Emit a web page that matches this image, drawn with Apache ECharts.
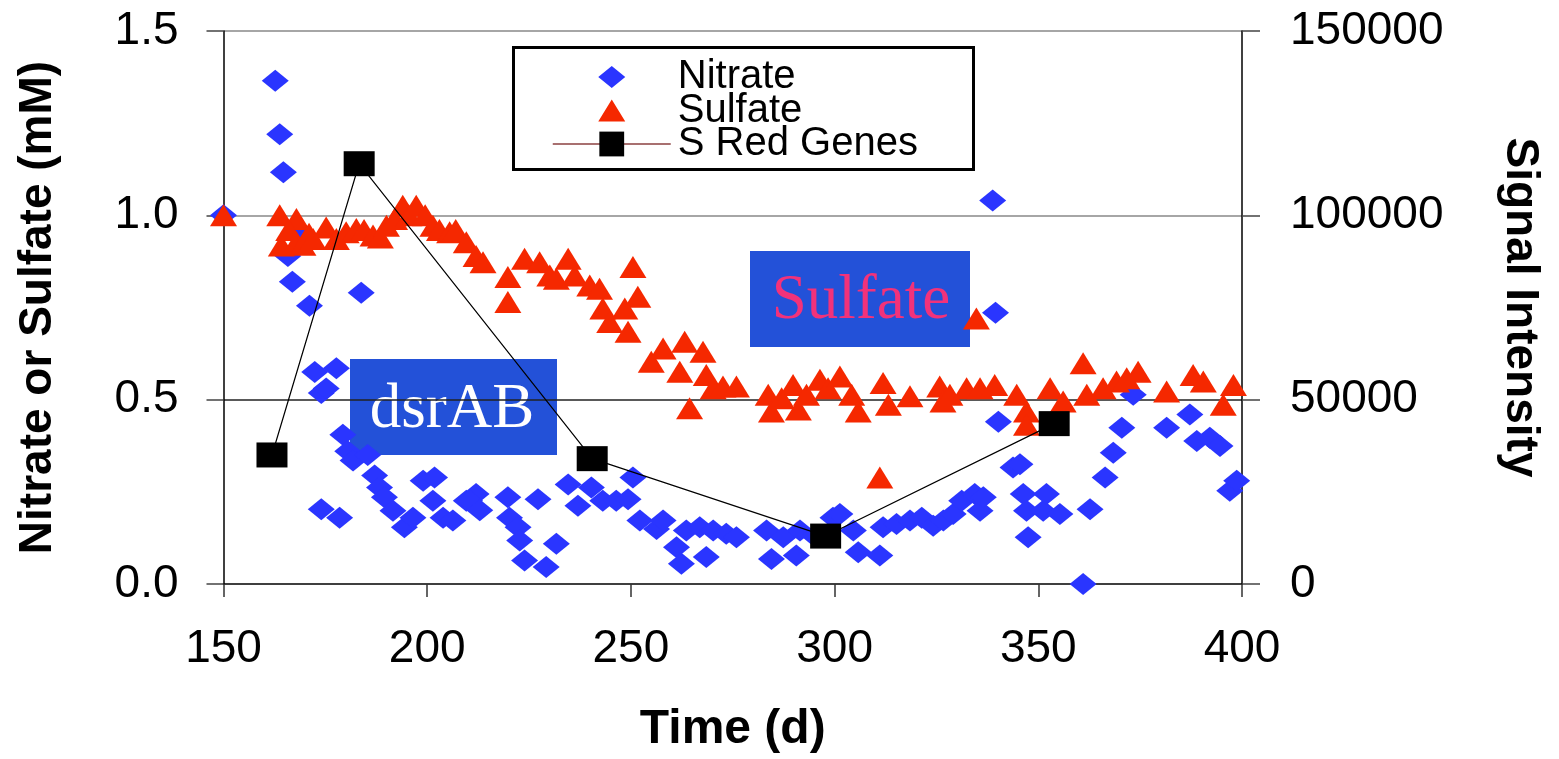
<!DOCTYPE html>
<html>
<head>
<meta charset="utf-8">
<script src="https://cdn.jsdelivr.net/npm/echarts@6/dist/echarts.min.js"></script>
<style>
html,body{margin:0;padding:0;background:#fff;}
#chart{width:1559px;height:759px;}
</style>
</head>
<body>
<div id="chart"></div>
<script>
// ---- data (day, value) ----
var xTicks = [150, 200, 250, 300, 350, 400];
var leftTicks = ['0.0', '0.5', '1.0', '1.5'];
var rightTicks = ['0', '50000', '100000', '150000'];

var nitrate = [
  [150,1.0],[162.7,1.365],[163.8,1.22],[164.7,1.117],[167.8,0.955],[165.8,0.89],[166.9,0.82],
  [183.8,0.79],[171.1,0.755],[172.4,0.575],[177.7,0.585],[174,0.518],[175.2,0.53],[179.3,0.405],
  [180.5,0.36],[181.8,0.335],[185.4,0.35],[187.1,0.294],[188.3,0.262],[189.5,0.235],[191.6,0.199],
  [194.4,0.154],[196.5,0.18],[199,0.28],[201.8,0.289],[201.4,0.226],[203.9,0.18],[206.3,0.172],
  [209.6,0.226],[212,0.244],[174,0.203],[178.5,0.18],[210.4,0.226],[212.9,0.2],[219.8,0.235],
  [220.2,0.18],[222.3,0.154],[222.7,0.118],[223.9,0.064],[229.2,0.046],[231.7,0.109],[227.2,0.23],
  [234.6,0.27],[237,0.212],[240.3,0.262],[243.1,0.226],[246.4,0.226],[249.3,0.23],[250.5,0.289],
  [252.2,0.172],[256.3,0.149],[257.9,0.172],[261.2,0.1],[262.4,0.055],[263.6,0.145],[266.9,0.154],
  [268.5,0.073],[270.2,0.145],[273.4,0.136],[275.9,0.127],[283.3,0.145],[284.5,0.068],[287.4,0.127],
  [290.6,0.077],[291.5,0.145],[295,0.13],[299.6,0.18],[301.3,0.19],[304.6,0.145],[305.8,0.086],
  [311.1,0.077],[311.9,0.154],[315.2,0.163],[318.5,0.172],[321.4,0.18],[324.2,0.158],[326.7,0.172],
  [329.1,0.19],[331.2,0.226],[334.4,0.244],[335.7,0.199],[338.8,1.04],[339.5,0.736],[340.2,0.44],
  [336.5,0.235],[343.8,0.316],[345.5,0.325],[346.3,0.244],[347.1,0.199],[347.5,0.127],[351.2,0.199],
  [352,0.244],[355.3,0.19],[362.7,0.203],[361,0.0],[366.4,0.289],[368.4,0.356],[370.5,0.424],
  [373.3,0.513],[381.5,0.424],[387.2,0.46],[388.9,0.388],[392.1,0.397],[394.6,0.374],[397,0.253],
  [398.7,0.28]
];

var sulfate = [
  [150,1.0],[163.8,1.0],[167.9,0.99],[164.2,0.918],[167.9,0.927],[166,0.96],[169.5,0.92],[171,0.95],
  [172,0.936],[175.2,0.967],[177.7,0.936],[180.1,0.954],[182.6,0.963],[184.5,0.96],[186.7,0.945],
  [188.5,0.94],[190,0.972],[192,0.99],[194,1.026],[195.5,1.0],[197.3,1.026],[199.5,1.0],[201.4,0.972],
  [203,0.96],[205.5,0.954],[207,0.96],[209.6,0.927],[212,0.89],[213.7,0.873],[219.8,0.833],
  [219.8,0.765],[223.9,0.882],[227.6,0.873],[230.1,0.837],[231.7,0.828],[234.6,0.882],[236.2,0.837],
  [239.9,0.81],[242.3,0.801],[243.1,0.747],[244.8,0.711],[248.5,0.747],[249.3,0.684],[250.5,0.86],
  [251.7,0.779],[255,0.603],[257.9,0.639],[262,0.576],[263.2,0.657],[264.4,0.477],[267.7,0.63],
  [268.5,0.567],[270.2,0.531],[272.6,0.536],[275.9,0.536],[283.7,0.513],[284.5,0.468],[287,0.504],
  [289.8,0.54],[291.1,0.473],[293.1,0.513],[296.4,0.554],[298.4,0.531],[301.3,0.563],[304.2,0.513],
  [305.8,0.468],[311.1,0.289],[311.9,0.545],[313.2,0.486],[318.5,0.509],[325.8,0.536],[326.6,0.495],
  [328.3,0.513],[332.4,0.531],[334.8,0.72],[335.7,0.531],[339.3,0.54],[344.7,0.513],[347.1,0.468],
  [347.1,0.432],[352.9,0.531],[356.1,0.495],[361,0.599],[361.9,0.513],[365.9,0.531],[369.2,0.549],
  [371.7,0.558],[374.5,0.576],[381.5,0.522],[388,0.567],[390.5,0.549],[395.4,0.486],[397.9,0.54]
];

var genes = [
  [161.9,35000],[183.3,114000],[240.5,34000],[297.8,13000],[353.9,43500]
];

var seriesNames = ['Nitrate', 'Sulfate', 'S Red Genes'];
var annotations = ['dsrAB', 'Sulfate'];

// ---- chart ----
var SANS = '"Liberation Sans", Arial, sans-serif';
var SERIF = '"Liberation Serif", "Times New Roman", serif';
// legend icons: a centred marker inside an invisible 118x31 frame (tiny corner dots fix the box)
var FRAME = 'M0,0 L0.01,0 L0,0.01 Z M118,31 L117.99,31 L118,30.99 Z ';
var ICON_DIAMOND = 'path://' + FRAME + 'M59,4.5 L72.5,15.5 L59,26.5 L45.5,15.5 Z';
var ICON_TRIANGLE = 'path://' + FRAME + 'M59,4.5 L72.5,26.5 L45.5,26.5 Z';

var chart = echarts.init(document.getElementById('chart'));

chart.setOption({
  animation: false,
  backgroundColor: '#ffffff',
  grid: { left: 223.5, right: 317, top: 31, bottom: 172, containLabel: false },
  legend: {
    orient: 'vertical',
    left: 547, top: 52,
    itemWidth: 118, itemHeight: 31, itemGap: -6.5,
    selectedMode: false,
    textStyle: { fontFamily: SANS, fontSize: 40, color: '#000', padding: [0,0,0,2] },
    data: [
      { name: seriesNames[0], icon: ICON_DIAMOND },
      { name: seriesNames[1], icon: ICON_TRIANGLE },
      { name: seriesNames[2], lineStyle: { color: '#8B4040', width: 1.5 } }
    ]
  },
  xAxis: {
    type: 'value', min: xTicks[0], max: xTicks[xTicks.length-1], interval: 50,
    name: 'Time (d)', nameLocation: 'middle', nameGap: 122,
    nameTextStyle: { fontFamily: SANS, fontSize: 48, fontWeight: 'bold', color: '#000' },
    axisLine: { show: true, onZero: false, lineStyle: { color: '#000', width: 1.5 } },
    axisTick: { show: true, inside: false, length: 13, lineStyle: { color: '#333', width: 1.5 } },
    axisLabel: { margin: 42, fontFamily: SANS, fontSize: 46, color: '#000' },
    splitLine: { show: false }
  },
  yAxis: [
    {
      type: 'value', min: 0, max: 1.5, interval: 0.5, position: 'left',
      name: 'Nitrate or Sulfate (mM)', nameLocation: 'middle', nameGap: 162, nameRotate: 90,
      nameTextStyle: { fontFamily: SANS, fontSize: 46, fontWeight: 'bold', color: '#000' },
      axisLine: { show: true, lineStyle: { color: '#000', width: 1.5 } },
      axisTick: { show: true, inside: false, length: 17, lineStyle: { color: '#444', width: 1.5 } },
      axisLabel: { margin: 45, fontFamily: SANS, fontSize: 46, color: '#000',
        formatter: function (v) { return leftTicks[Math.round(v / 0.5)]; } },
      splitLine: { show: true, lineStyle: { color: ['rgba(0,0,0,0)', '#222', '#888', '#888'], width: 1.5 } }
    },
    {
      type: 'value', min: 0, max: 150000, interval: 50000, position: 'right',
      name: 'Signal Intensity', nameLocation: 'middle', nameGap: 255, nameRotate: -90,
      nameTextStyle: { fontFamily: SANS, fontSize: 46, fontWeight: 'bold', color: '#000' },
      axisLine: { show: true, lineStyle: { color: '#000', width: 1.5 } },
      axisTick: { show: true, inside: false, length: 18, lineStyle: { color: '#444', width: 1.5 } },
      axisLabel: { margin: 48, fontFamily: SANS, fontSize: 46, color: '#000',
        formatter: function (v) { return rightTicks[Math.round(v / 50000)]; } },
      splitLine: { show: false }
    }
  ],
  series: [
    {
      name: seriesNames[0], type: 'scatter', yAxisIndex: 0, data: nitrate,
      symbol: 'diamond', symbolSize: [27, 22],
      itemStyle: { color: '#2A35FF', opacity: 1 }, z: 2
    },
    {
      name: seriesNames[1], type: 'scatter', yAxisIndex: 0, data: sulfate,
      symbol: 'triangle', symbolSize: [27, 22],
      itemStyle: { color: '#F52800', opacity: 1 }, z: 3
    },
    {
      name: seriesNames[2], type: 'line', yAxisIndex: 1, data: genes,
      symbol: 'rect', symbolSize: [31, 25], showAllSymbol: true,
      lineStyle: { color: '#000', width: 1.2 },
      itemStyle: { color: '#000' }, z: 4
    }
  ],
  graphic: [
    {
      type: 'rect', left: 512, top: 46, z: 10,
      shape: { width: 460, height: 122 },
      style: { fill: 'rgba(0,0,0,0)', stroke: '#000', lineWidth: 3 }
    },
    {
      type: 'group', left: 350, top: 359, z: 20,
      children: [
        { type: 'rect', shape: { x: 0, y: 0, width: 207, height: 96 }, style: { fill: '#2351D8' } },
        { type: 'text', x: 102, y: 51,
          style: { text: annotations[0], fill: '#ffffff', font: '63px ' + SERIF, textAlign: 'center', textVerticalAlign: 'middle' } }
      ]
    },
    {
      type: 'group', left: 750, top: 251, z: 20,
      children: [
        { type: 'rect', shape: { x: 0, y: 0, width: 220, height: 96 }, style: { fill: '#2351D8' } },
        { type: 'text', x: 111, y: 50,
          style: { text: annotations[1], fill: '#F2327A', font: '63px ' + SERIF, textAlign: 'center', textVerticalAlign: 'middle' } }
      ]
    }
  ]
});
</script>
</body>
</html>
